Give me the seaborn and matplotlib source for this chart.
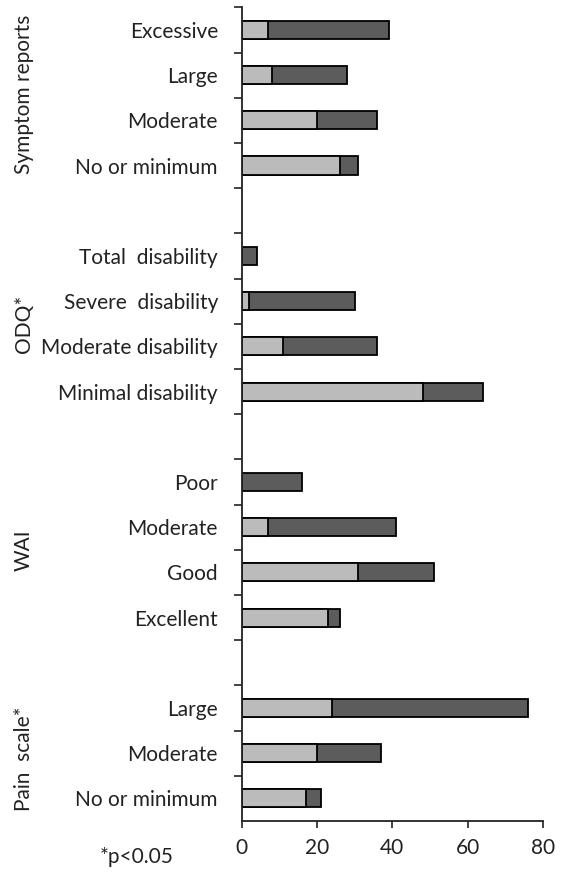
import numpy as np
import pandas as pd
import seaborn as sns
import matplotlib.pyplot as plt
import matplotlib.transforms as mtransforms

# Rating levels per instrument, top to bottom
symptom_levels = ["Excessive", "Large", "Moderate", "No or minimum"]
symptom_light = [7, 8, 20, 26]
symptom_dark = [32, 20, 16, 5]

odq_levels = ["Total  disability", "Severe  disability", "Moderate disability", "Minimal disability"]
odq_light = [0, 2, 11, 48]
odq_dark = [4, 28, 25, 16]

wai_levels = ["Poor", "Moderate", "Good", "Excellent"]
wai_light = [0, 7, 31, 23]
wai_dark = [16, 34, 20, 3]

pain_levels = ["Large", "Moderate", "No or minimum"]
pain_light = [24, 20, 17]
pain_dark = [52, 17, 4]

group_names = ["Symptom reports", "ODQ*", "WAI", "Pain  scale*"]
x_ticks = [0, 20, 40, 60, 80]
footnote = "*p<0.05"

LIGHT = "#bbbbbb"
DARK = "#5c5c5c"
INK = "#222222"
FS = 15

sns.set_theme(style="white")
plt.rcParams["font.family"] = ["Lato", "DejaVu Sans"]
plt.rcParams["text.color"] = INK

# Stack the groups with one empty slot between consecutive groups
blocks = [
    (symptom_levels, symptom_light, symptom_dark),
    (odq_levels, odq_light, odq_dark),
    (wai_levels, wai_light, wai_dark),
    (pain_levels, pain_light, pain_dark),
]
rows = []
spans = []
slot = 0
for levels, light, dark in blocks:
    start = slot
    for lab, lv, dv in zip(levels, light, dark):
        rows.append({"pos": slot + 0.5, "label": lab, "light": lv, "total": lv + dv})
        slot += 1
    spans.append((start, slot))
    slot += 1
n_slots = slot - 1
df = pd.DataFrame(rows)

fig = plt.figure(figsize=(5.62, 8.81), dpi=100)
ax = fig.add_axes([241.5 / 562, 1 - 821 / 881, (543.3 - 241.5) / 562, (821 - 7.3) / 881])

common = dict(orient="h", native_scale=True, width=0.4, saturation=1,
              edgecolor="black", linewidth=1.3, errorbar=None, ax=ax)
sns.barplot(data=df, x="total", y="pos", color=DARK, **common)
sns.barplot(data=df, x="light", y="pos", color=LIGHT, **common)

ax.set_xlim(0, 80)
ax.set_ylim(n_slots, 0)
ax.set_xlabel("")
ax.set_ylabel("")

# Boundary ticks between rows, labels at row centres
ax.set_yticks(np.arange(0, n_slots))
ax.set_yticklabels([])
ax.set_yticks(df["pos"].values, minor=True)
ax.set_yticklabels(df["label"].values, minor=True)
ax.tick_params(axis="y", which="major", left=True, length=6, width=1.2,
               color=INK, direction="out")
ax.tick_params(axis="y", which="minor", left=True, length=0, pad=17,
               labelsize=FS, labelcolor=INK)

ax.set_xticks(x_ticks)
ax.set_xticklabels([str(v) for v in x_ticks])
ax.tick_params(axis="x", which="major", bottom=True, length=5, width=1.2,
               color=INK, direction="out", labelsize=FS,
               labelcolor=INK, pad=7)

for side in ["top", "right"]:
    ax.spines[side].set_visible(False)
for side in ["left", "bottom"]:
    ax.spines[side].set_color(INK)
    ax.spines[side].set_linewidth(1.3)

# Group titles along the left edge, centred on each group's span
trans = mtransforms.blended_transform_factory(fig.transFigure, ax.transData)
offsets = [-0.08, 0.0, 0.0, 0.13]
for name, (a, b), off in zip(group_names, spans, offsets):
    ax.text(24 / 562, (a + b) / 2 + off, name, transform=trans, rotation=90,
            ha="center", va="center", fontsize=FS, color=INK)

fig.text(137 / 562, 1 - 857 / 881, footnote, ha="center", va="center",
         fontsize=FS, color=INK)

fig.savefig("out.png", dpi=100, facecolor="white")
